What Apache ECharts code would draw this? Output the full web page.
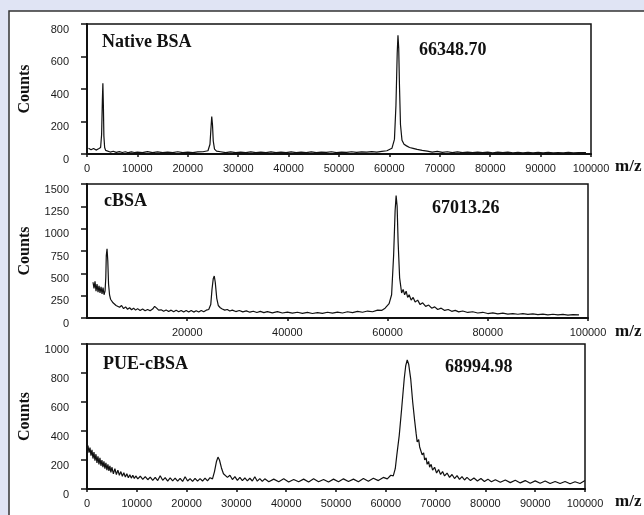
<!DOCTYPE html>
<html>
<head>
<meta charset="utf-8">
<script src="https://cdn.jsdelivr.net/npm/echarts@6/dist/echarts.min.js"></script>
<style>
  html, body { margin: 0; padding: 0; background: #e0e4f4; }
  #container { width: 644px; height: 515px; }
</style>
</head>
<body>
<div id="container"></div>
<script>
// m/z, counts
const nativeBsa = [
  [300, 35], [800, 26], [1300, 34], [1800, 24], [2300, 32], [2700, 40], [2900, 120], [3050, 330],
  [3150, 435], [3250, 300], [3350, 110], [3500, 40], [3700, 22], [4000, 18], [4600, 12], [5200, 17],
  [5800, 10], [6400, 15], [7000, 9], [7600, 14], [8200, 8], [8800, 13], [9400, 9], [10000, 12],
  [11000, 8], [12000, 15], [13000, 9], [14000, 13], [15000, 8], [16000, 12], [17000, 9], [18000, 14],
  [19000, 8], [20000, 12], [21000, 9], [22000, 13], [23000, 14], [24000, 20], [24400, 60], [24600, 160],
  [24750, 230], [24900, 180], [25050, 80], [25300, 30], [25700, 18], [26500, 14], [27500, 9], [28500, 13],
  [29500, 8], [30500, 12], [31500, 9], [32500, 13], [33500, 8], [34500, 12], [35500, 9], [36500, 13],
  [37500, 8], [38500, 12], [39500, 9], [40500, 13], [41500, 8], [42500, 12], [43500, 9], [44500, 13],
  [45500, 8], [46500, 12], [47500, 10], [48500, 14], [49500, 9], [50500, 12], [51500, 10], [52500, 14],
  [53500, 10], [54500, 13], [55500, 11], [56500, 15], [57500, 12], [58500, 16], [59500, 20], [60500, 35],
  [61000, 90], [61300, 300], [61550, 620], [61700, 730], [61850, 650], [62000, 420], [62200, 180], [62500, 85],
  [62900, 60], [63400, 50], [64000, 40], [64700, 35], [65500, 28], [66500, 22], [67500, 18], [68500, 12],
  [69500, 16], [70500, 10], [71500, 14], [72500, 9], [73500, 13], [74500, 8], [75500, 12], [76500, 9],
  [77500, 12], [78500, 8], [79500, 11], [80500, 7], [81500, 11], [82500, 8], [83500, 11], [84500, 7],
  [85500, 10], [86500, 7], [87500, 10], [88500, 7], [89500, 10], [90500, 7], [91500, 10], [92500, 7],
  [93500, 9], [94500, 7], [95500, 10], [96500, 7], [97500, 9], [99000, 8]
];

const cBsa = [
  [1200, 400], [1400, 330], [1600, 410], [1800, 300], [2000, 380], [2200, 290], [2400, 360], [2600, 280],
  [2800, 350], [3000, 270], [3200, 340], [3400, 260], [3600, 300], [3750, 450], [3850, 700], [4000, 775],
  [4150, 640], [4300, 380], [4500, 260], [4700, 210], [4900, 230], [5200, 170], [5500, 185], [5800, 140],
  [6100, 160], [6500, 120], [6900, 140], [7300, 105], [7700, 125], [8100, 98], [8500, 115], [8900, 92],
  [9300, 110], [9700, 88], [10100, 105], [10600, 85], [11100, 100], [11600, 82], [12100, 96], [12600, 80],
  [13100, 100], [13500, 130], [13900, 110], [14300, 88], [14800, 92], [15300, 75], [15800, 90], [16300, 72],
  [16800, 88], [17300, 70], [17800, 86], [18300, 70], [18800, 85], [19300, 68], [19800, 84], [20300, 68],
  [20800, 84], [21300, 66], [21800, 82], [22300, 68], [22800, 84], [23300, 70], [23800, 88], [24300, 95],
  [24700, 150], [24950, 320], [25200, 440], [25400, 470], [25600, 400], [25900, 220], [26200, 140], [26600, 115],
  [27000, 100], [27500, 88], [28000, 95], [28500, 78], [29000, 88], [29700, 72], [30400, 84], [31100, 68],
  [31800, 80], [32500, 65], [33200, 76], [33900, 62], [34600, 74], [35300, 60], [36000, 72], [37000, 58],
  [38000, 72], [39000, 56], [40000, 66], [41000, 54], [42000, 64], [43000, 52], [44000, 62], [45000, 50],
  [46000, 60], [47000, 52], [48000, 64], [49000, 54], [50000, 66], [51000, 56], [52000, 70], [53000, 60],
  [54000, 74], [55000, 64], [56000, 78], [57000, 70], [58000, 88], [58800, 85], [59500, 110], [60300, 160],
  [60800, 260], [61200, 700], [61500, 1200], [61700, 1370], [61900, 1250], [62100, 850], [62400, 450], [62800, 280],
  [63100, 320], [63400, 260], [63700, 300], [64000, 230], [64300, 260], [64700, 200], [65100, 230], [65500, 180],
  [66000, 200], [66500, 150], [67000, 170], [67600, 130], [68200, 145], [68800, 110], [69400, 125], [70000, 95],
  [70700, 110], [71400, 85], [72100, 95], [72800, 75], [73500, 85], [74200, 68], [75000, 78], [76000, 62],
  [77000, 70], [78000, 56], [79000, 64], [80000, 50], [81000, 58], [82000, 46], [83000, 54], [84000, 44],
  [85000, 50], [86000, 42], [87000, 48], [88000, 40], [89000, 46], [90000, 38], [91000, 44], [92000, 36],
  [93000, 42], [94000, 34], [95000, 40], [96000, 33], [97000, 38], [98200, 34]
];

const pueCBsa = [
  [200, 300], [400, 250], [600, 285], [800, 230], [1000, 270], [1200, 210], [1400, 255], [1600, 195],
  [1800, 240], [2000, 180], [2200, 225], [2400, 170], [2600, 215], [2800, 160], [3000, 200], [3200, 150],
  [3400, 190], [3600, 140], [3800, 180], [4000, 130], [4200, 170], [4400, 125], [4600, 160], [4800, 115],
  [5000, 150], [5300, 105], [5600, 140], [5900, 100], [6200, 130], [6500, 95], [6800, 120], [7100, 88],
  [7400, 112], [7700, 82], [8000, 105], [8300, 78], [8600, 98], [8900, 75], [9200, 95], [9500, 72],
  [9800, 90], [10200, 70], [10700, 88], [11200, 66], [11700, 85], [12200, 64], [12700, 82], [13200, 60],
  [13700, 80], [14200, 58], [14700, 92], [15200, 60], [15700, 78], [16200, 55], [16700, 76], [17200, 56],
  [17700, 75], [18200, 54], [18700, 74], [19200, 52], [19700, 85], [20200, 55], [20700, 72], [21200, 52],
  [21700, 74], [22200, 54], [22700, 72], [23200, 55], [23700, 75], [24200, 56], [24700, 78], [25200, 70],
  [25600, 120], [26000, 190], [26300, 220], [26600, 200], [27000, 145], [27400, 105], [27800, 115], [28200, 80],
  [28700, 95], [29200, 65], [29700, 85], [30200, 60], [30700, 80], [31200, 58], [31700, 76], [32200, 56],
  [32700, 74], [33200, 55], [33700, 85], [34200, 54], [34700, 72], [35200, 52], [35700, 70], [36500, 50],
  [37500, 68], [38500, 50], [39500, 70], [40500, 48], [41500, 66], [42500, 50], [43500, 68], [44500, 48],
  [45500, 70], [46500, 50], [47500, 66], [48500, 48], [49500, 68], [50500, 50], [51500, 70], [52500, 52],
  [53500, 68], [54500, 50], [55500, 72], [56500, 54], [57500, 74], [58500, 58], [59500, 80], [60300, 70],
  [61000, 95], [61500, 90], [61900, 140], [62200, 230], [62700, 370], [63200, 560], [63700, 760], [64000, 850],
  [64300, 890], [64600, 860], [65000, 760], [65400, 600], [65800, 470], [66100, 380], [66300, 325], [66600, 340],
  [66800, 290], [67100, 300], [67300, 235], [67600, 250], [67800, 200], [68100, 215], [68300, 170], [68600, 190],
  [68800, 150], [69100, 170], [69400, 130], [69800, 150], [70200, 110], [70600, 135], [71000, 100], [71400, 120],
  [71800, 90], [72300, 110], [72800, 80], [73300, 100], [73800, 72], [74300, 92], [74800, 66], [75300, 85],
  [75800, 62], [76300, 80], [77000, 58], [77700, 76], [78400, 55], [79100, 72], [79800, 52], [80500, 68],
  [81200, 50], [82000, 64], [83000, 46], [84000, 62], [85000, 44], [86000, 60], [87000, 42], [88000, 58],
  [89000, 40], [90000, 56], [91000, 40], [92000, 55], [93000, 38], [94000, 52], [95000, 38], [96000, 52],
  [97000, 36], [98000, 50], [99000, 38], [100000, 58]
];

const panelNames = ['Native BSA', 'cBSA', 'PUE-cBSA'];
const peakMasses = ['66348.70', '67013.26', '68994.98'];
const yMax = [800, 1500, 1000];
const yStep = [200, 250, 200];
const xStep = [10000, 20000, 10000];

const serif = "'Liberation Serif', 'Times New Roman', serif";
const sans = "'Liberation Sans', Arial, sans-serif";

var dom = document.getElementById('container');
var myChart = echarts.init(dom, null, { renderer: 'canvas' });

const grids = [
  { left: 87, top: 24, width: 504, height: 130 },
  { left: 87, top: 184, width: 501, height: 134 },
  { left: 87, top: 344, width: 498, height: 145 }
];
const titlePos = [
  [[102, 33], [419, 41], [615, 158]],
  [[104, 192], [432, 199], [615, 323]],
  [[103, 355], [445, 358], [615, 493]]
];

var titles = [];
grids.forEach(function (g, i) {
  g.show = true;
  g.borderColor = '#111';
  g.borderWidth = 1.5;
  g.backgroundColor = 'transparent';
  const texts = [panelNames[i], peakMasses[i], 'm/z'];
  texts.forEach(function (t, k) {
    titles.push({
      text: t,
      left: titlePos[i][k][0],
      top: titlePos[i][k][1],
      padding: 0,
      textStyle: { fontFamily: serif, fontWeight: 'bold', fontSize: k === 2 ? 17 : 18, color: '#111' }
    });
  });
});

var xAxes = grids.map(function (g, i) {
  return {
    type: 'value', gridIndex: i, min: 0, max: 100000, interval: xStep[i],
    axisLine: { show: true, lineStyle: { color: '#111', width: 2 } },
    axisTick: { show: true, length: 3, lineStyle: { color: '#111', width: 1.5 } },
    axisLabel: {
      fontFamily: sans, fontSize: 11, color: '#1a1a1a', margin: 9, showMinLabel: i !== 1,
      formatter: function (v) { return String(v); }
    },
    splitLine: { show: false }
  };
});

var yAxes = grids.map(function (g, i) {
  return {
    type: 'value', gridIndex: i, min: 0, max: yMax[i], interval: yStep[i],
    name: 'Counts', nameLocation: 'middle', nameGap: 54,
    nameTextStyle: { fontFamily: serif, fontWeight: 'bold', fontSize: 16, color: '#111' },
    axisLine: { show: true, lineStyle: { color: '#111', width: 2 } },
    axisTick: { show: true, length: 6, lineStyle: { color: '#111', width: 1.5 } },
    axisLabel: {
      fontFamily: sans, fontSize: 11, color: '#1a1a1a', margin: 18, verticalAlign: 'top',
      formatter: function (v) { return String(v); }
    },
    splitLine: { show: false }
  };
});

var spectra = [nativeBsa, cBsa, pueCBsa];
var series = spectra.map(function (d, i) {
  return {
    type: 'line', xAxisIndex: i, yAxisIndex: i, data: d,
    showSymbol: false, symbol: 'none', silent: true,
    lineStyle: { color: '#111', width: 1.2 }
  };
});

var option = {
  backgroundColor: '#e0e4f4',
  animation: false,
  graphic: [{
    type: 'rect', z: -10,
    shape: { x: 9, y: 11, width: 700, height: 600 },
    style: { fill: '#ffffff', stroke: '#333', lineWidth: 1.5 }
  }],
  title: titles,
  grid: grids,
  xAxis: xAxes,
  yAxis: yAxes,
  series: series
};

myChart.setOption(option);
window.addEventListener('resize', myChart.resize);
</script>
</body>
</html>
